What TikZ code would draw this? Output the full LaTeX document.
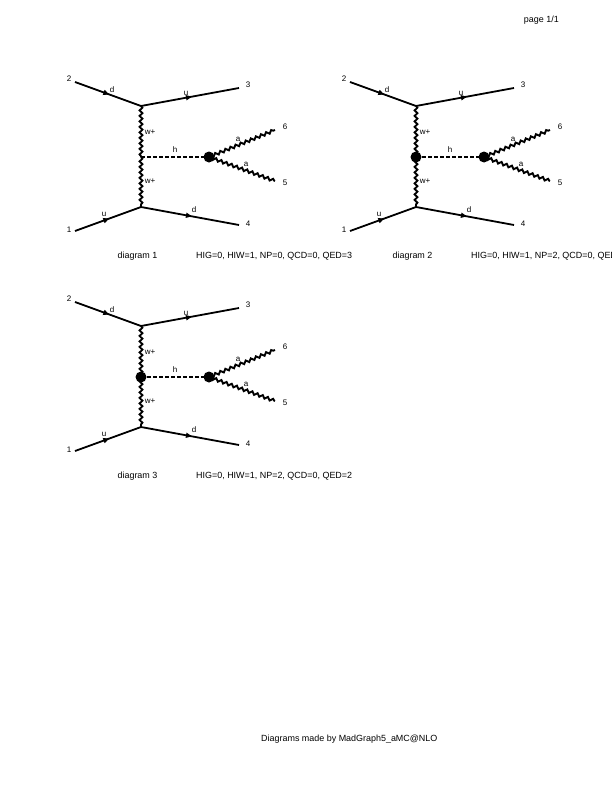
\documentclass[tikz,border=0pt]{standalone}
\usepackage{fontspec}
\setmainfont{Liberation Sans}
\usetikzlibrary{decorations.pathmorphing,decorations.markings,arrows.meta}
\tikzset{
  fermion/.style={line width=1.8pt,postaction={decorate},decoration={markings,mark=at position 0.52 with {\arrow[black]{Triangle[length=6pt,width=5pt]}}}},
  boson/.style={line width=1.9pt,decorate,decoration={snake,segment length=5.5pt,amplitude=1.4pt}},
  scalar/.style={line width=1.5pt,dash pattern=on 3.5pt off 2.5pt},
  blob/.style={circle,fill=black,inner sep=0pt,minimum size=11pt},
  vtx/.style={inner sep=0pt,minimum size=0pt},
  tiny lab/.style={inner sep=0pt,font=\fontsize{8}{9}\selectfont},
  caption lab/.style={inner sep=0pt,font=\fontsize{8.95}{10}\selectfont},
}
\newcommand{\feyn}[5]{%
\begin{scope}[shift={(#2,#3)}]
  \node[vtx] (#1t) at (141,106) {};
  \node[vtx] (#1b) at (141,207) {};
  \node[vtx] (#1m) at (141,157) {};
  \node[blob] (#1h) at (209,157) {};
  \node[vtx] (#1e2) at (75,82) {};
  \node[vtx] (#1e3) at (239,88) {};
  \node[vtx] (#1e1) at (75,231) {};
  \node[vtx] (#1e4) at (239,225) {};
  \node[vtx] (#1e6) at (275,130) {};
  \node[vtx] (#1e5) at (275,181) {};
  \draw[fermion] (#1e2.center) -- (#1t.center);
  \draw[fermion] (#1t.center) -- (#1e3.center);
  \draw[fermion] (#1e1.center) -- (#1b.center);
  \draw[fermion] (#1b.center) -- (#1e4.center);
  \draw[boson] (#1t.center) -- (#1m.center);
  \draw[boson] (#1m.center) -- (#1b.center);
  \draw[scalar] (#1m.center) -- (#1h.center);
  \draw[boson] (#1h.center) -- (#1e6.center);
  \draw[boson] (#1h.center) -- (#1e5.center);
  #4
  \node[tiny lab] (#1n2) at (69,79) {2};
  \node[tiny lab] (#1n3) at (248,85) {3};
  \node[tiny lab] (#1n1) at (69,230) {1};
  \node[tiny lab] (#1n4) at (248,224) {4};
  \node[tiny lab] (#1n6) at (285,127) {6};
  \node[tiny lab] (#1n5) at (285,183) {5};
  \node[tiny lab] (#1l1) at (112,90) {d};
  \node[tiny lab] (#1l2) at (186,93) {u};
  \node[tiny lab] (#1l3) at (104,214) {u};
  \node[tiny lab] (#1l4) at (194,210) {d};
  \node[tiny lab] (#1l5) at (150,132) {w+};
  \node[tiny lab] (#1l6) at (150,181) {w+};
  \node[tiny lab] (#1l7) at (175,150) {h};
  \node[tiny lab] (#1l8) at (238,139) {a};
  \node[tiny lab] (#1l9) at (246,164) {a};
  #5
\end{scope}}
\begin{document}
\begin{tikzpicture}[x=1pt,y=-1pt]
\useasboundingbox (0,0) rectangle (612,792);
\fill[white] (0,0) rectangle (612,792);
\node[caption lab,anchor=east] (page) at (559,20) {page 1/1};
\feyn{a}{0}{0}{}{%
  \node[caption lab] (acap) at (137.5,256) {diagram 1};
  \node[caption lab,anchor=west] (ainfo) at (196,256) {HIG=0, HIW=1, NP=0, QCD=0, QED=3};}
\feyn{b}{275}{0}{\node[blob] (bv) at (141,157) {};}{%
  \node[caption lab] (bcap) at (137.5,256) {diagram 2};
  \node[caption lab,anchor=west] (binfo) at (196,256) {HIG=0, HIW=1, NP=2, QCD=0, QED=3};}
\feyn{c}{0}{220}{\node[blob] (cv) at (141,157) {};}{%
  \node[caption lab] (ccap) at (137.5,256) {diagram 3};
  \node[caption lab,anchor=west] (cinfo) at (196,256) {HIG=0, HIW=1, NP=2, QCD=0, QED=2};}
\node[caption lab,anchor=west] (foot) at (261,739) {Diagrams made by MadGraph5\_aMC@NLO};
\end{tikzpicture}
\end{document}
